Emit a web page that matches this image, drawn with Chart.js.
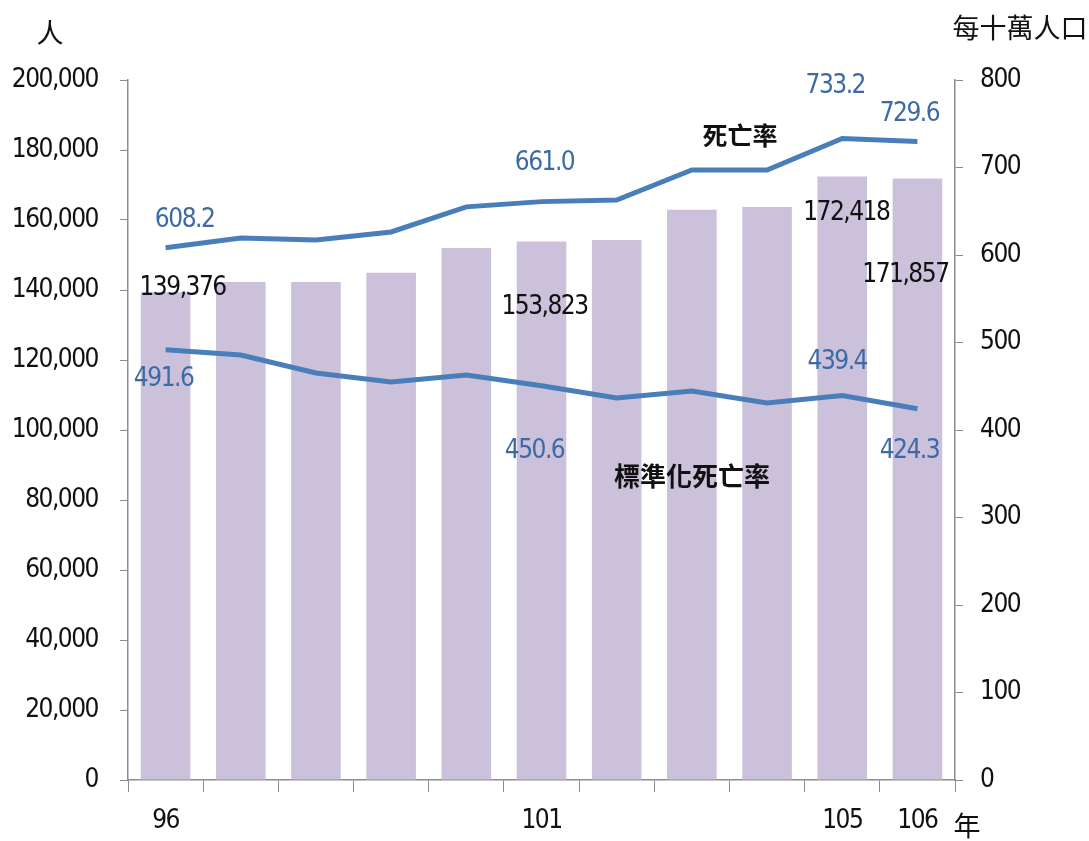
<!DOCTYPE html>
<html>
<head>
<meta charset="utf-8">
<script src="https://cdn.jsdelivr.net/npm/chart.js@4/dist/chart.umd.min.js"></script>
<style>
  html, body { margin: 0; padding: 0; background: #fff; }
</style>
</head>
<body>
<canvas id="myChart" width="1089" height="841"></canvas>
<script>
const years = ["96", "97", "98", "99", "100", "101", "102", "103", "104", "105", "106"];
const deaths = [139376, 142300, 142300, 144900, 152000, 153823, 154300, 162900, 163700, 172418, 171857];
const crudeRate = [608.2, 619.4, 617.1, 626.3, 655.0, 661.0, 662.9, 697.1, 697.1, 733.2, 729.6];
const stdRate = [491.6, 485.7, 465.1, 454.9, 462.9, 450.6, 436.6, 444.6, 430.9, 439.4, 424.3];
const shownYears = ["96", "101", "105", "106"];
const leftTicks = [0, 20000, 40000, 60000, 80000, 100000, 120000, 140000, 160000, 180000, 200000];

const numFont = "'Liberation Sans Narrow', 'DejaVu Sans Condensed', 'Liberation Sans', sans-serif";
const cjkFont = "'Noto Sans CJK TC', 'Noto Sans CJK SC', sans-serif";
const numSize = 26;
const axisGray = "#8c8c8c";
const lineBlue = "#4a7ebb";
const labelBlue = "#3d6aa5";

// value labels: dataset index, point index, offset from the element
const valueLabels = [
  { ds: 0, i: 0, dx: 17, dy: -4 },
  { ds: 0, i: 5, dx: 3, dy: 66 },
  { ds: 0, i: 9, dx: 4, dy: 37 },
  { ds: 0, i: 10, dx: -12, dy: 97 },
  { ds: 1, i: 0, dx: 19, dy: -28 },
  { ds: 1, i: 5, dx: 3, dy: -38 },
  { ds: 1, i: 9, dx: -7, dy: -52 },
  { ds: 1, i: 10, dx: -8, dy: -27 },
  { ds: 2, i: 0, dx: -2, dy: 29 },
  { ds: 2, i: 5, dx: -7, dy: 66 },
  { ds: 2, i: 9, dx: -5, dy: -33 },
  { ds: 2, i: 10, dx: -8, dy: 43 }
];

// squeeze the digits a bit, the original uses a narrow font
const narrowPlugin = {
  id: "narrow",
  beforeInit(chart) { chart.ctx.letterSpacing = "-1.5px"; },
  beforeDraw(chart) { chart.ctx.letterSpacing = "-1.5px"; }
};

const labelPlugin = {
  id: "labels",
  afterDatasetsDraw(chart) {
    const c = chart.ctx;
    c.save();
    c.textAlign = "center";
    c.textBaseline = "middle";
    c.font = numSize + "px " + numFont;
    valueLabels.forEach(l => {
      const el = chart.getDatasetMeta(l.ds).data[l.i];
      const v = chart.data.datasets[l.ds].data[l.i];
      const txt = l.ds === 0 ? v.toLocaleString("en-US") : v.toFixed(1);
      c.fillStyle = l.ds === 0 ? "#111" : labelBlue;
      c.fillText(txt, el.x + l.dx, el.y + l.dy);
    });

    c.letterSpacing = "0px";
    c.fillStyle = "#111";
    c.font = "bold 25px " + cjkFont;
    c.fillText("死亡率", 740, 135);
    c.font = "bold 26px " + cjkFont;
    c.fillText("標準化死亡率", 692, 476);

    c.font = "27px " + cjkFont;
    c.fillText("人", 50, 33);
    c.fillText("每十萬人口", 1020, 28);
    c.fillText("年", 967, 826);
    c.restore();
  }
};

const ctx = document.getElementById("myChart");

new Chart(ctx, {
  data: {
    labels: years,
    datasets: [
      {
        type: "bar",
        label: "死亡人數",
        data: deaths,
        backgroundColor: "#cbc1db",
        yAxisID: "y",
        order: 1,
        barPercentage: 0.66,
        categoryPercentage: 1
      },
      {
        type: "line",
        label: "死亡率",
        data: crudeRate,
        borderColor: lineBlue,
        borderWidth: 5,
        pointRadius: 0,
        tension: 0,
        yAxisID: "y1",
        order: 0
      },
      {
        type: "line",
        label: "標準化死亡率",
        data: stdRate,
        borderColor: lineBlue,
        borderWidth: 5,
        pointRadius: 0,
        tension: 0,
        yAxisID: "y1",
        order: 0
      }
    ]
  },
  options: {
    responsive: false,
    animation: false,
    events: [],
    layout: { padding: { top: 80, left: 0, right: 0, bottom: 0 } },
    plugins: {
      legend: { display: false },
      tooltip: { enabled: false }
    },
    scales: {
      x: {
        offset: true,
        grid: {
          offset: true,
          drawOnChartArea: false,
          tickLength: 12,
          color: axisGray
        },
        border: { color: axisGray, width: 1.5 },
        ticks: {
          autoSkip: false,
          maxRotation: 0,
          padding: 14,
          color: "#111",
          font: { family: numFont, size: numSize },
          callback: function(v, i) {
            const lab = years[i];
            return shownYears.includes(lab) ? lab : "";
          }
        },
        afterFit(scale) { scale.height = 61; }
      },
      y: {
        position: "left",
        min: 0,
        max: 200000,
        afterBuildTicks(scale) { scale.ticks = leftTicks.map(v => ({ value: v })); },
        grid: { drawOnChartArea: false, tickLength: 8, color: axisGray },
        border: { color: axisGray, width: 1.5 },
        ticks: {
          padding: 22,
          color: "#111",
          font: { family: numFont, size: numSize },
          callback: v => v.toLocaleString("en-US")
        },
        afterFit(scale) { scale.width = 128; }
      },
      y1: {
        position: "right",
        min: 0,
        max: 800,
        ticks: {
          stepSize: 100,
          padding: 17,
          color: "#111",
          font: { family: numFont, size: numSize }
        },
        grid: { drawOnChartArea: false, tickLength: 8, color: axisGray },
        border: { color: axisGray, width: 1.5 },
        afterFit(scale) { scale.width = 134; }
      }
    }
  },
  plugins: [narrowPlugin, labelPlugin]
});
</script>
</body>
</html>
